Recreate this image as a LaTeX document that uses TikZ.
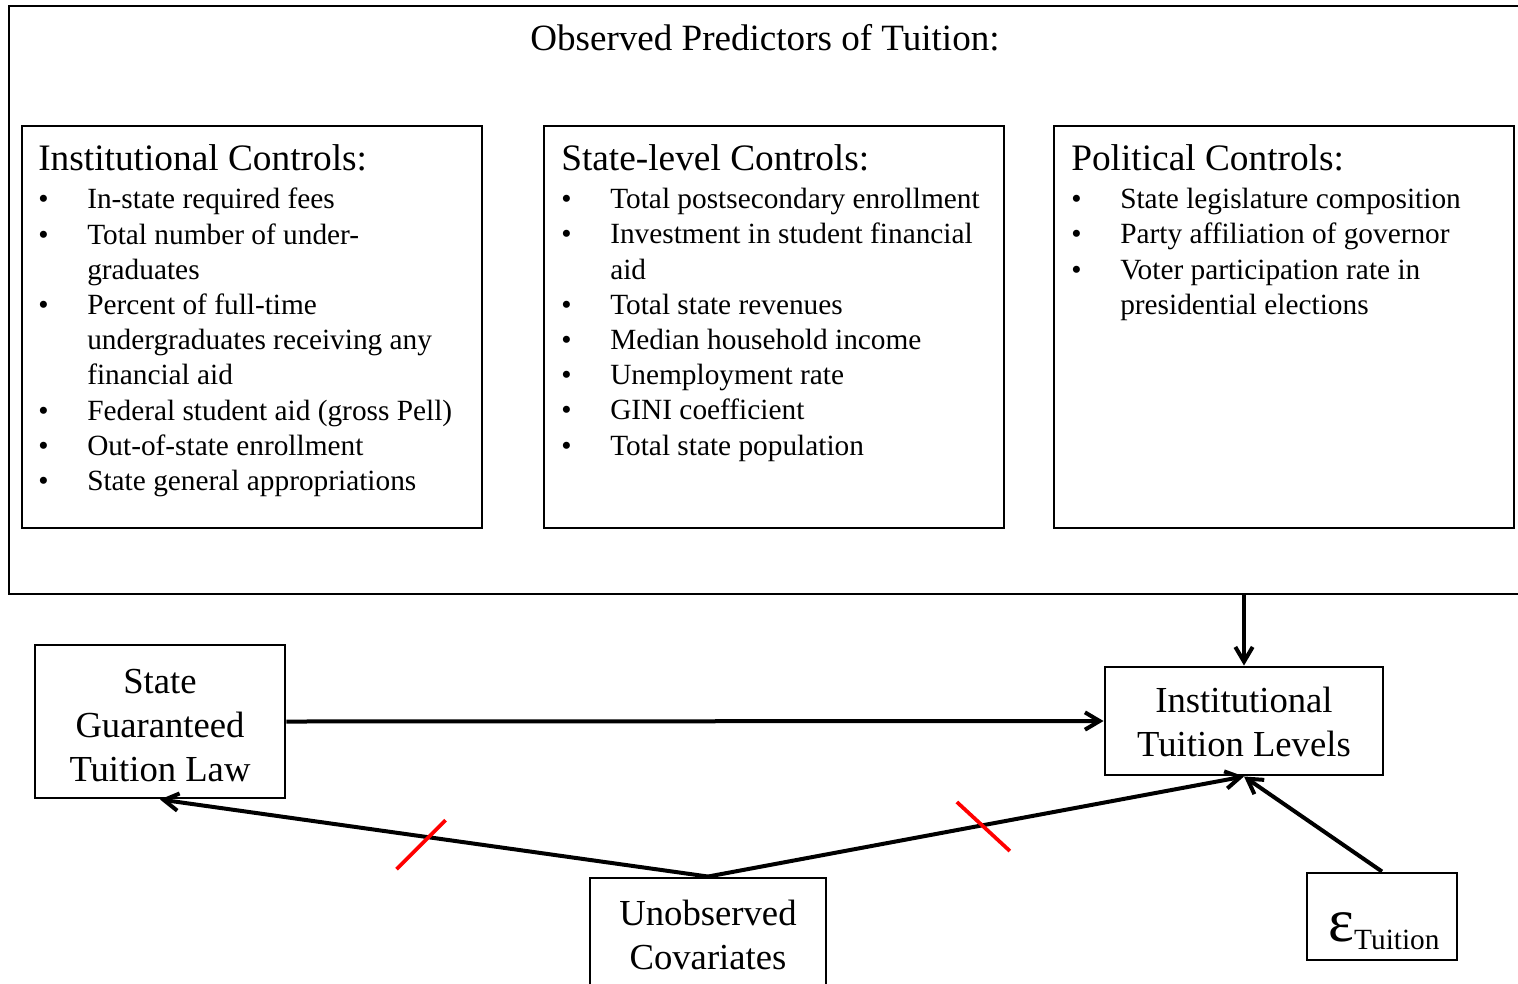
\documentclass[tikz,border=0pt]{standalone}
\usepackage{fontspec}
\setmainfont{Liberation Serif}
\usetikzlibrary{arrows.meta,fit,calc}
\newcommand\bitem{\makebox[36.75pt][l]{•}}
\newcommand\bind{\hspace*{36.75pt}}
\newcommand\firstsmall{\rule{0pt}{15pt}}
\newcommand\firstbig{\rule{0pt}{20pt}}
\begin{document}
\begin{tikzpicture}[x=0.75pt,y=-0.75pt,
  box/.style={draw, line width=2.2pt, inner sep=0pt},
  titletext/.style={anchor=base, inner sep=0pt, font=\fontsize{27.8}{33}\selectfont},
  heading/.style={anchor=base west, inner sep=0pt, font=\fontsize{28}{32}\selectfont},
  items/.style={anchor=north west, inner sep=0pt, align=left, font=\fontsize{22}{26.4}\selectfont},
  btext/.style={anchor=north, inner sep=0pt, align=center, font=\fontsize{27.5}{33}\selectfont},
  arr/.style={-{Straight Barb[length=11pt,width=13pt]}, line width=3pt},
  strike/.style={draw=red, line width=2.8pt}]
\path[use as bounding box] (0,0) rectangle (1518,983);
\clip (0,0) rectangle (1518,983);

% outer box
\node[box, fit={(9,6) (1545,594)}] (obs) {};
\node[titletext] (title) at (765,50) {Observed Predictors of Tuition:};

% inner boxes
\node[box, fit={(22,126) (482,528)}] (inst) {};
\node[box, fit={(544,126) (1004,528)}] (state) {};
\node[box, fit={(1054,126) (1514,528)}] (pol) {};

\node[heading] (insth) at (38,170) {Institutional Controls:};
\node[heading] (stateh) at (561,170) {State-level Controls:};
\node[heading] (polh) at (1071,170) {Political Controls:};

\node[items] (instl) at (38,188) {\firstsmall\bitem In-state required fees\\
\bitem Total number of under-\\
\bind graduates\\
\bitem Percent of full-time\\
\bind undergraduates receiving any\\
\bind financial aid\\
\bitem Federal student aid (gross Pell)\\
\bitem Out-of-state enrollment\\
\bitem State general appropriations};

\node[items] (statel) at (561,188) {\firstsmall\bitem Total postsecondary enrollment\\
\bitem Investment in student financial\\
\bind aid\\
\bitem Total state revenues\\
\bitem Median household income\\
\bitem Unemployment rate\\
\bitem GINI coefficient\\
\bitem Total state population};

\node[items] (poll) at (1071,188) {\firstsmall\bitem State legislature composition\\
\bitem Party affiliation of governor\\
\bitem Voter participation rate in\\
\bind presidential elections};

% lower boxes
\node[box, fit={(35,645) (285,798)}] (sgl) {};
\node[btext] (sgltext) at (160,666.3) {\firstbig State\\Guaranteed\\Tuition Law};

\node[box, fit={(1105,667) (1383,775)}] (itl) {};
\node[btext] (itltext) at (1244,685.3) {\firstbig Institutional\\Tuition Levels};

\node[box, fit={(590,878) (826,1040)}] (uc) {};
\node[btext] (uctext) at (708,898.3) {\firstbig Unobserved\\Covariates};

\node[box, fit={(1307,873) (1457,960)}] (eps) {};
\node[anchor=base, inner sep=0pt] (epstext) at (1384,941) {{\fontsize{46}{46}\selectfont ε}\raisebox{-6pt}{\fontsize{22}{22}\selectfont Tuition}};

% connectors
\draw[arr] (obs.south -| itl.north) -- (itl.north);
\draw[arr] (sgl.east) -- (itl.west);
\draw[arr] (uc.north) -- (sgl.south);
\draw[arr] (uc.north) -- (itl.south);
\draw[arr] (eps.north) -- (itl.south);

% red strike marks
\path (uc.north) -- (sgl.south) coordinate[pos=0.51] (s1);
\path (uc.north) -- (itl.south) coordinate[pos=0.51] (s2);
\draw[strike] ($(s1)+(-32,32)$) -- ($(s1)+(17,-17)$);
\draw[strike] ($(s2)+(-24.5,-23.5)$) -- ($(s2)+(28.5,25.5)$);
\end{tikzpicture}
\end{document}
